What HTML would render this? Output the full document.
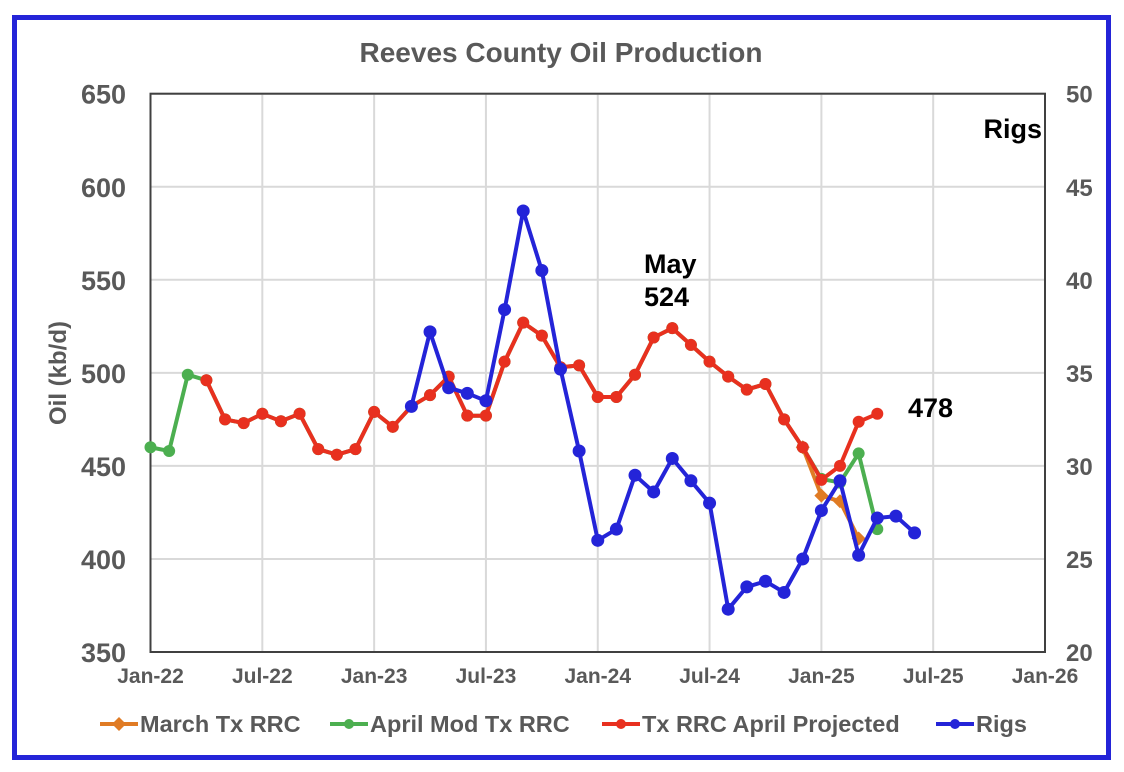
<!DOCTYPE html>
<html><head><meta charset="utf-8"><style>
body{margin:0;background:#fff;}
svg{display:block;font-family:"Liberation Sans",Arial,sans-serif;}
</style></head><body>
<svg id="c" width="1124" height="772"></svg>
<script>
const months=["Jan-22","Feb-22","Mar-22","Apr-22","May-22","Jun-22","Jul-22","Aug-22","Sep-22","Oct-22","Nov-22","Dec-22","Jan-23","Feb-23","Mar-23","Apr-23","May-23","Jun-23","Jul-23","Aug-23","Sep-23","Oct-23","Nov-23","Dec-23","Jan-24","Feb-24","Mar-24","Apr-24","May-24","Jun-24","Jul-24","Aug-24","Sep-24","Oct-24","Nov-24","Dec-24","Jan-25","Feb-25","Mar-25","Apr-25","May-25","Jun-25"];
const xTickLabels=["Jan-22","Jul-22","Jan-23","Jul-23","Jan-24","Jul-24","Jan-25","Jul-25","Jan-26"];
const yLeftTicks=[350,400,450,500,550,600,650];
const yRightTicks=[20,25,30,35,40,45,50];
const marchStart=35;
const marchVals=[460,434,431,411];
const aprilModStart=0;
const aprilModVals=[460,458,499,496,475,473,478,474,478,459,456,459,479,471,482,488,498,477,477,506,527,520,503,504,487,487,499,519,524,515,506,498,491,494,475,460,443,441,456.7,416];
const projStart=3;
const projVals=[496,475,473,478,474,478,459,456,459,479,471,482,488,498,477,477,506,527,520,503,504,487,487,499,519,524,515,506,498,491,494,475,460,442.5,450,473.7,478];
const rigStart=14;
const rigVals=[33.2,37.2,34.2,33.9,33.5,38.4,43.7,40.5,35.2,30.8,26.0,26.6,29.5,28.6,30.4,29.2,28.0,22.3,23.5,23.8,23.2,25.0,27.6,29.2,25.2,27.2,27.3,26.4];

const X0=150.5,X1=1045,Y0=93.7,Y1=652;
const x=i=>X0+(X1-X0)*i/48;
const yL=v=>Y1-(v-350)/300*(Y1-Y0);
const yR=v=>Y1-(v-20)/30*(Y1-Y0);
const svg=document.getElementById('c');
const NS='http://www.w3.org/2000/svg';
function mk(t,a,p){const e=document.createElementNS(NS,t);for(const k in a)e.setAttribute(k,a[k]);(p||svg).appendChild(e);return e;}
let e;
e=mk('rect',{x:14.5,y:17.5,width:1094,height:740,fill:'#fff',stroke:'#2424d8','stroke-width':5});


e=mk('text',{x:561,y:62,'text-anchor':'middle','font-size':28,'font-weight':'bold',fill:'#595959'});e.textContent='Reeves County Oil Production';


for(let k=0;k<=8;k++){e=mk('line',{x1:x(k*6),x2:x(k*6),y1:Y0,y2:Y1,stroke:'#d9d9d9','stroke-width':2});


e=mk('text',{x:x(k*6),y:683,'text-anchor':'middle','font-size':21,'font-weight':'bold',fill:'#595959'});e.textContent=xTickLabels[k];

}
yLeftTicks.forEach(v=>{e=mk('line',{x1:X0,x2:X1,y1:yL(v),y2:yL(v),stroke:'#d9d9d9','stroke-width':2});


e=mk('text',{x:126,y:yL(v)+10,'text-anchor':'end','font-size':27,'font-weight':'bold',fill:'#595959'});e.textContent=v;

});
yRightTicks.forEach(v=>{e=mk('text',{x:1066,y:yR(v)+9,'font-size':24,'font-weight':'bold',fill:'#595959'});e.textContent=v;

});
e=mk('rect',{x:X0,y:Y0,width:X1-X0,height:Y1-Y0,fill:'none',stroke:'#404040','stroke-width':2});


e=mk('text',{x:0,y:0,transform:'translate(66,373) rotate(-90)','text-anchor':'middle','font-size':24,'font-weight':'bold',fill:'#595959'});e.textContent='Oil (kb/d)';


function series(start,vals,yf,col,name,marker,w){
 const g=mk('g',{});
 
 
 const pts=vals.map((v,i)=>x(start+i).toFixed(1)+','+yf(v).toFixed(1)).join(' ');
 mk('polyline',{points:pts,fill:'none',stroke:col,'stroke-width':w,'stroke-linejoin':'round'},g);
 vals.forEach((v,i)=>{const cx=x(start+i),cy=yf(v);let m;
  if(marker==='d')m=mk('polygon',{points:`${cx},${cy-7} ${cx+7},${cy} ${cx},${cy+7} ${cx-7},${cy}`,fill:col},g);
  else m=mk('circle',{cx:cx,cy:cy,r:marker==='b'?6.5:6,fill:col},g);
  
  });
}
series(marchStart,marchVals,yL,'#e07b24','march-tx-rrc-series','d',4);
series(aprilModStart,aprilModVals,yL,'#4caf50','april-mod-tx-rrc-series','c',4);
series(projStart,projVals,yL,'#e8301f','tx-rrc-april-projected-series','c',4);
series(rigStart,rigVals,yR,'#2424d8','rigs-series','b',4);
function lab(t,xx,yy,n,anc){const e=mk('text',{x:xx,y:yy,'font-size':27,'font-weight':'bold',fill:'#000','text-anchor':anc||'start'});e.textContent=t;

}
lab('May',644,273,'annotation-may');lab('524',644,306,'annotation-524');
lab('478',908,417,'annotation-478');lab('Rigs',1042,138,'right-axis-title','end');
const legNames=['March Tx RRC','April Mod Tx RRC','Tx RRC April Projected','Rigs'];
const legCols=['#e07b24','#4caf50','#e8301f','#2424d8'];
const legX=[100,330,602,936];
legNames.forEach((n,i)=>{const g=mk('g',{});
 
 
 const lx=legX[i];
 mk('line',{x1:lx,x2:lx+38,y1:724,y2:724,stroke:legCols[i],'stroke-width':4},g);
 if(i===0)mk('polygon',{points:`${lx+19},717 ${lx+26},724 ${lx+19},731 ${lx+12},724`,fill:legCols[i]},g);
 else mk('circle',{cx:lx+19,cy:724,r:5,fill:legCols[i]},g);
 const t=mk('text',{x:lx+40,y:732,'font-size':23.5,'font-weight':'bold',fill:'#595959'},g);t.textContent=n;});
</script>
</body></html>
